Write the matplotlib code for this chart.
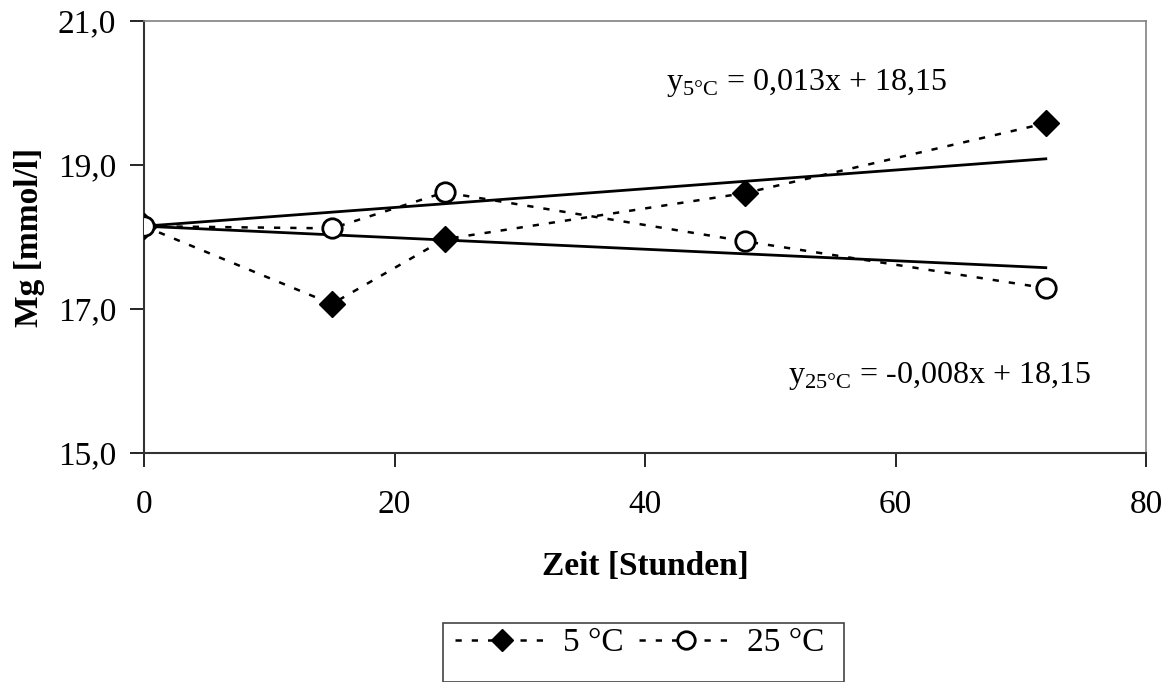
import matplotlib.pyplot as plt
from matplotlib.patches import Rectangle
import numpy as np

plt.rcParams['font.family'] = ['Liberation Serif', 'DejaVu Serif']
plt.rcParams['mathtext.fontset'] = 'custom'
plt.rcParams['mathtext.rm'] = 'Liberation Serif'

# data
hours = [0, 15, 24, 48, 72]
mg_5c = [18.15, 17.07, 17.97, 18.61, 19.58]
mg_25c = [18.15, 18.12, 18.62, 17.94, 17.29]

# linear fits shown on the chart
slope_5c, icpt_5c = 0.013, 18.15
slope_25c, icpt_25c = -0.008, 18.15

fig = plt.figure(figsize=(11.75, 6.82), dpi=100)
ax = fig.add_axes([144 / 1175, 1 - 453 / 682, (1146 - 144) / 1175, (453 - 21) / 682])

ax.plot(hours, mg_5c, linestyle=(0, (2.5, 4)), color='black', lw=1.8,
        marker='D', markersize=13, markerfacecolor='black', label='5 °C', zorder=3)
ax.plot(hours, mg_25c, linestyle=(0, (2.5, 4)), color='black', lw=1.8,
        marker='o', markersize=14, markerfacecolor='white', markeredgewidth=2,
        label='25 °C', zorder=4)

xfit = np.array([0, 72])
ax.plot(xfit, slope_5c * xfit + icpt_5c, color='black', lw=2, zorder=2)
ax.plot(xfit, slope_25c * xfit + icpt_25c, color='black', lw=2, zorder=2)

ax.set_xlim(0, 80)
ax.set_ylim(15, 21)
ax.set_xticks([0, 20, 40, 60, 80])
ax.set_yticks([15, 17, 19, 21])
ax.set_yticklabels(['15,0', '17,0', '19,0', '21,0'])
ax.tick_params(labelsize=24, direction='out', length=10, width=1.2, pad=10)
ax.tick_params(axis='x', pad=16)

for s in ['top', 'right']:
    ax.spines[s].set_color('#808080')
    ax.spines[s].set_linewidth(1.2)
for s in ['left', 'bottom']:
    ax.spines[s].set_color('#333333')
    ax.spines[s].set_linewidth(1.5)

ax.set_xlabel('Zeit [Stunden]', fontsize=24, fontweight='bold')
ax.xaxis.set_label_coords(0.5, -0.262)
ax.xaxis.label.set_verticalalignment('center')
ax.set_ylabel('Mg [mmol/l]', fontsize=24, fontweight='bold')
ax.yaxis.set_label_coords(-0.114, 0.5)
ax.yaxis.label.set_verticalalignment('center')

ax.text(666 / 1175, 1 - 90 / 682, r'y$_{\mathregular{5°C}}$ = 0,013x + 18,15',
        transform=fig.transFigure, fontsize=23, va='baseline', ha='left')
ax.text(788 / 1175, 1 - 383 / 682, r'y$_{\mathregular{25°C}}$ = -0,008x + 18,15',
        transform=fig.transFigure, fontsize=23, va='baseline', ha='left')

# legend box, partly cut off at the bottom like the original
fig.patches.append(Rectangle((443 / 1175, 0), (844 - 443) / 1175, (682 - 623) / 682,
                             transform=fig.transFigure, fill=False,
                             edgecolor='#444444', lw=1.2))
fig.legend(loc='center left', bbox_to_anchor=(455 / 1175, 1 - 643 / 682),
           ncol=2, frameon=False, fontsize=24, handlelength=2.8,
           columnspacing=0.45, handletextpad=0.45, borderaxespad=0,
           borderpad=0, markerscale=0.9)

fig.savefig('out.png', dpi=100)
